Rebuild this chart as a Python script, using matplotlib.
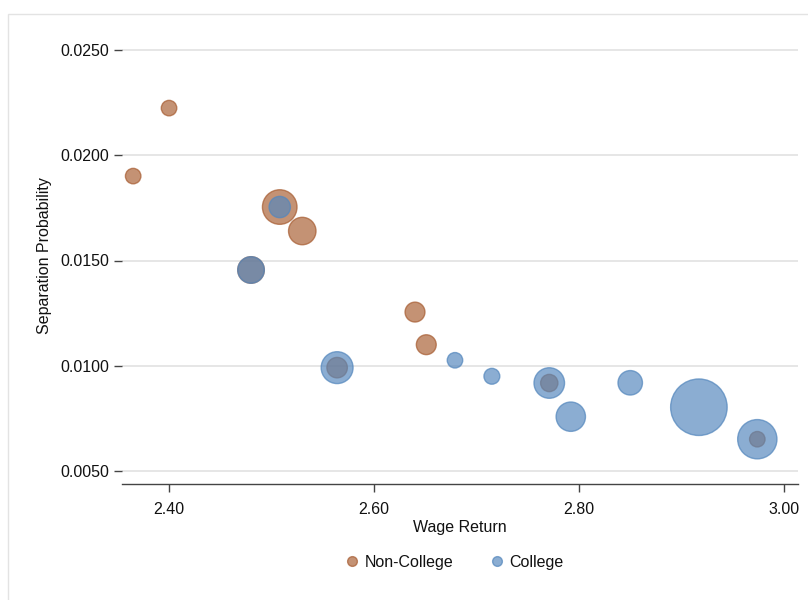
import matplotlib
matplotlib.use("Agg")
import matplotlib.pyplot as plt
from matplotlib.lines import Line2D
from matplotlib.patches import Rectangle

plt.rcParams["font.family"] = ["Liberation Sans", "DejaVu Sans"]

# Wage return vs. separation probability, bubble size = group weight
nc_wage = [2.365, 2.400, 2.480, 2.508, 2.530, 2.564, 2.640, 2.651, 2.771, 2.974]
nc_sep = [0.01901, 0.02224, 0.01455, 0.01754, 0.01640, 0.00991, 0.01255, 0.01100, 0.00918, 0.00651]
nc_weight = [2.0, 2.0, 5.9, 10.0, 6.3, 3.5, 3.3, 3.3, 2.5, 2.0]

col_wage = [2.480, 2.508, 2.564, 2.679, 2.715, 2.771, 2.792, 2.850, 2.917, 2.974]
col_sep = [0.01455, 0.01754, 0.00991, 0.01026, 0.00950, 0.00918, 0.00758, 0.00919, 0.00803, 0.00651]
col_weight = [5.9, 3.8, 8.5, 2.0, 2.1, 7.8, 7.2, 5.0, 26.7, 12.9]

x_ticks = [2.40, 2.60, 2.80, 3.00]
y_ticks = [0.0050, 0.0100, 0.0150, 0.0200, 0.0250]

orange = (0.66, 0.37, 0.20)
blue = (0.33, 0.53, 0.74)
size_scale = 62.0

fig = plt.figure(figsize=(8.08, 6.00), dpi=100)
fig.patch.set_facecolor("white")

# outer frame
fig.add_artist(Rectangle((8 / 808, -0.1), 1.2, 1.1 - 14 / 600,
                         transform=fig.transFigure, fill=False,
                         edgecolor="#e3e3e3", linewidth=1.0))

ax = fig.add_axes([122 / 808, 1 - 484 / 600, (798 - 122) / 808, (484 - 28) / 600])
ax.set_xlim(2.3541, 3.0137)
ax.set_ylim(0.005 - 13 / 21050, 0.025 + 22 / 21050)

ax.scatter(nc_wage, nc_sep, s=[w * size_scale for w in nc_weight],
           facecolor=(*orange, 0.68), edgecolor=(*orange, 0.72), linewidth=1.0, zorder=3)
ax.scatter(col_wage, col_sep, s=[w * size_scale for w in col_weight],
           facecolor=(*blue, 0.68), edgecolor=(*blue, 0.72), linewidth=1.0, zorder=4)

ax.set_xticks(x_ticks)
ax.set_xticklabels([f"{v:.2f}" for v in x_ticks])
ax.set_yticks(y_ticks)
ax.set_yticklabels([f"{v:.4f}" for v in y_ticks])
ax.grid(axis="y", color="#e6e6e6", linewidth=1.4, zorder=0)
ax.set_axisbelow(True)

for side in ["top", "right", "left"]:
    ax.spines[side].set_visible(False)
ax.spines["bottom"].set_color("#444444")
ax.spines["bottom"].set_linewidth(1.0)

ax.tick_params(axis="both", direction="out", length=6, width=1.0, color="#444444",
               labelsize=11.5, labelcolor="#111111")
ax.tick_params(axis="y", pad=3)
ax.tick_params(axis="x", pad=7)

ax.set_xlabel("Wage Return", fontsize=11.5, color="#111111", labelpad=2)
ax.set_ylabel("Separation Probability", fontsize=11.5, color="#111111", labelpad=6)

handles = [
    Line2D([], [], linestyle="none", marker="o", markersize=7,
           markerfacecolor=(*orange, 0.68), markeredgecolor=(*orange, 0.72)),
    Line2D([], [], linestyle="none", marker="o", markersize=7,
           markerfacecolor=(*blue, 0.68), markeredgecolor=(*blue, 0.72)),
]
fig.legend(handles, ["Non-College", "College"], loc="center",
           bbox_to_anchor=(454 / 808, 1 - 562 / 600), ncol=2, frameon=False,
           fontsize=11.5, handletextpad=0.3, columnspacing=2.2, handlelength=1.0,
           labelcolor="#111111")

fig.savefig("out.png", dpi=100, facecolor="white")
